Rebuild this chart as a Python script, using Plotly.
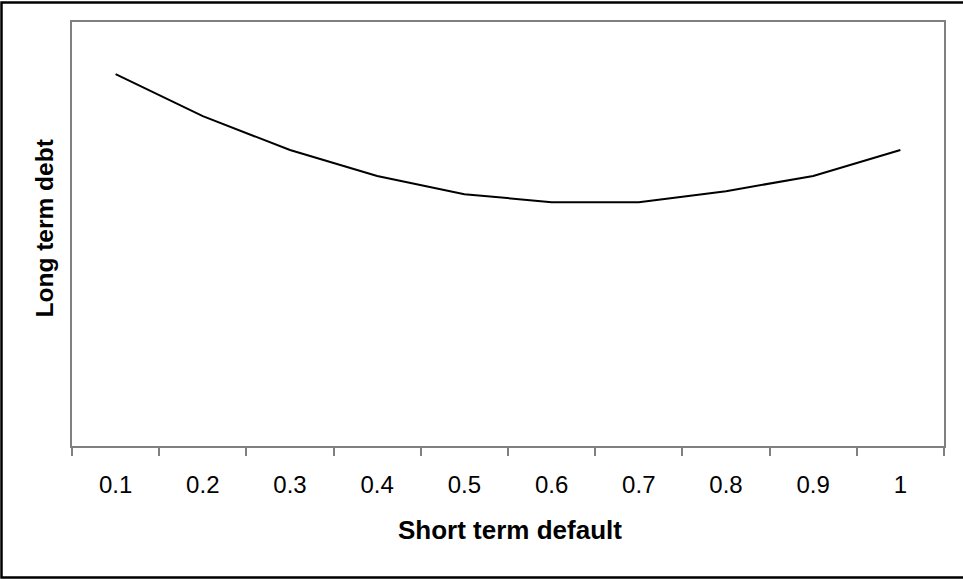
import plotly.graph_objects as go

categories = ["0.1", "0.2", "0.3", "0.4", "0.5", "0.6", "0.7", "0.8", "0.9", "1"]
long_term_debt = [0.877, 0.778, 0.698, 0.637, 0.594, 0.575, 0.575, 0.601, 0.637, 0.698]

W, H = 963, 579
L, R, T, B = 72, 19, 22, 133
pw, ph = W - L - R, H - T - B

def px_x(px):
    return (px - L) / pw

def px_y(py):
    return (H - B - py) / ph

fig = go.Figure()
fig.add_trace(go.Scatter(
    x=categories, y=long_term_debt, mode="lines",
    line=dict(color="black", width=2), showlegend=False, hoverinfo="skip",
))

font_family = "Liberation Sans, Arial, sans-serif"
fig.update_layout(
    width=W, height=H,
    margin=dict(l=L, r=R, t=T, b=B),
    paper_bgcolor="white", plot_bgcolor="white",
    font=dict(family=font_family, color="black", size=24),
    xaxis=dict(
        type="category", tickson="boundaries", ticks="outside", ticklen=8,
        tickcolor="#808080", tickwidth=1.5,
        showline=True, linecolor="#808080", linewidth=1.5, mirror=True,
        showgrid=False, zeroline=False,
        tickfont=dict(size=24, family=font_family, color="black"),
        ticklabelstandoff=16,
        range=[-0.5, 9.5],
    ),
    yaxis=dict(
        range=[0, 1], showticklabels=False, ticks="",
        showline=True, linecolor="#808080", linewidth=1.5, mirror=True,
        showgrid=False, zeroline=False,
    ),
    annotations=[
        dict(text="<b>Short term default</b>", xref="paper", yref="paper",
             x=px_x(510), y=px_y(530), xanchor="center", yanchor="middle",
             showarrow=False, font=dict(size=26, family=font_family, color="black")),
        dict(text="<b>Long term debt</b>", xref="paper", yref="paper",
             x=px_x(44), y=px_y(228.5), xanchor="center", yanchor="middle",
             textangle=-90, showarrow=False,
             font=dict(size=24.5, family=font_family, color="black")),
    ],
    shapes=[
        dict(type="rect", xref="paper", yref="paper",
             x0=px_x(1.5), x1=px_x(968), y0=px_y(577.5), y1=px_y(2.5),
             line=dict(color="black", width=2.5), fillcolor="rgba(0,0,0,0)", layer="above"),
    ],
)

fig.write_html("out.html", config={"displayModeBar": False},
               post_script="document.body.style.margin='0';document.body.style.overflow='hidden';")
